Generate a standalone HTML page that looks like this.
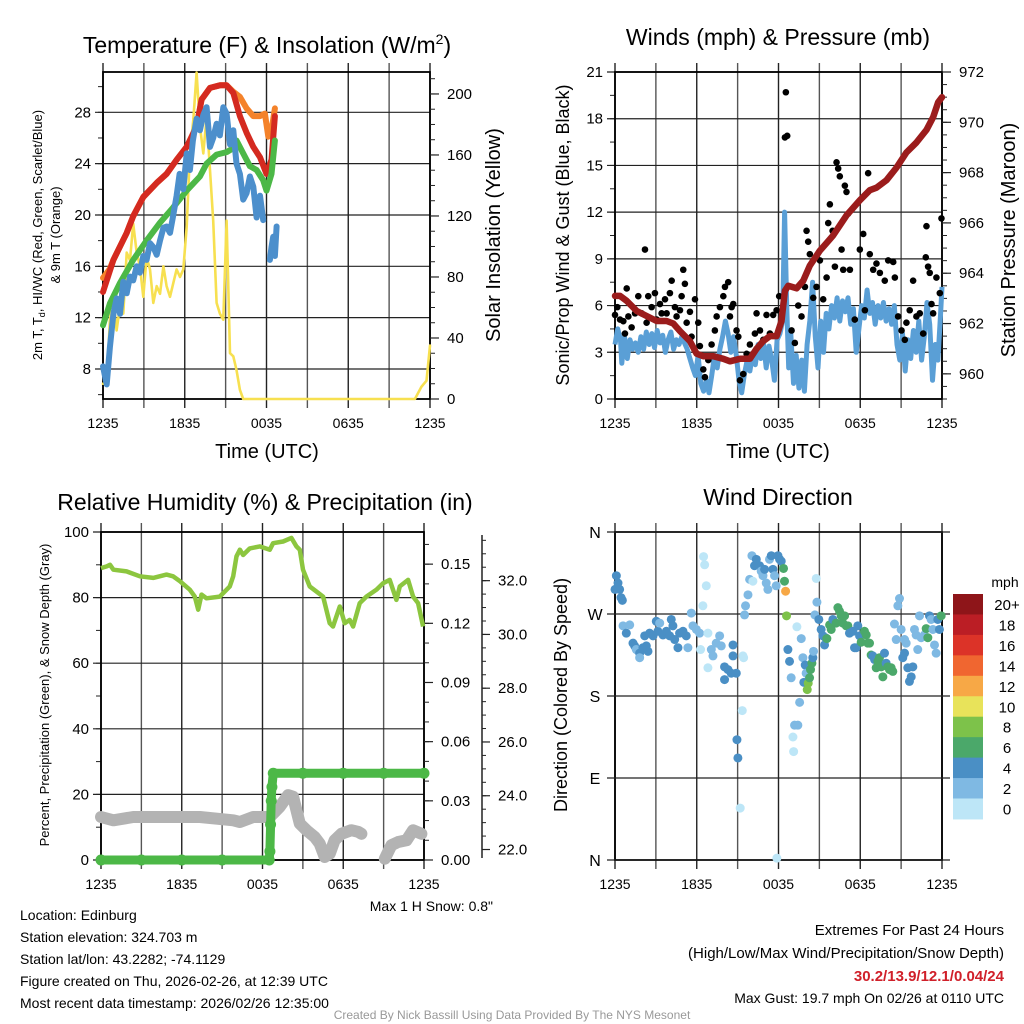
<!DOCTYPE html>
<html><head><meta charset="utf-8">
<style>
html,body{margin:0;padding:0;background:#fff;}
svg{display:block;font-family:"Liberation Sans",sans-serif;}
</style></head>
<body>
<svg id="c" width="1024" height="1024" viewBox="0 0 1024 1024" xmlns="http://www.w3.org/2000/svg">
<g id="g1"></g>
<g id="g2"></g>
<g id="g3"></g>
<g id="g4"></g>
<text x="267" y="53" font-size="23" text-anchor="middle">Temperature (F) &amp; Insolation (W/m<tspan dy="-9" font-size="14">2</tspan><tspan dy="9">)</tspan></text>
<text transform="translate(42,235) rotate(-90)" font-size="13" text-anchor="middle">2m T, T<tspan font-size="9" dy="3">d</tspan><tspan dy="-3">, HI/WC (Red, Green, Scarlet/Blue)</tspan></text>
<text transform="translate(60,235) rotate(-90)" font-size="13" text-anchor="middle">&amp; 9m T (Orange)</text>
<text transform="translate(500,235) rotate(-90)" font-size="20" text-anchor="middle">Solar Insolation (Yellow)</text>
<text x="267" y="458" font-size="20" text-anchor="middle">Time (UTC)</text>
<text x="778" y="45" font-size="23" text-anchor="middle">Winds (mph) &amp; Pressure (mb)</text>
<text transform="translate(569,235) rotate(-90)" font-size="18" text-anchor="middle">Sonic/Prop Wind &amp; Gust (Blue, Black)</text>
<text transform="translate(1015,240) rotate(-90)" font-size="20" text-anchor="middle">Station Pressure (Maroon)</text>
<text x="778" y="458" font-size="20" text-anchor="middle">Time (UTC)</text>
<text x="265" y="510" font-size="23" text-anchor="middle">Relative Humidity (%) &amp; Precipitation (in)</text>
<text transform="translate(49,695) rotate(-90)" font-size="13" text-anchor="middle">Percent, Precipitation (Green), &amp; Snow Depth (Gray)</text>
<text x="493" y="911" font-size="14" text-anchor="end">Max 1 H Snow: 0.8"</text>
<text x="778" y="505" font-size="23" text-anchor="middle">Wind Direction</text>
<text transform="translate(567,695) rotate(-90)" font-size="18" text-anchor="middle">Direction (Colored By Speed)</text>
<g font-size="14">
<text x="20" y="920">Location: Edinburg</text>
<text x="20" y="942">Station elevation: 324.703 m</text>
<text x="20" y="964">Station lat/lon: 43.2282; -74.1129</text>
<text x="20" y="986">Figure created on Thu, 2026-02-26, at 12:39 UTC</text>
<text x="20" y="1008">Most recent data timestamp: 2026/02/26 12:35:00</text>
</g>
<g font-size="15" text-anchor="end">
<text x="1004" y="935">Extremes For Past 24 Hours</text>
<text x="1004" y="958">(High/Low/Max Wind/Precipitation/Snow Depth)</text>
<text x="1004" y="981" fill="#d0202a" font-weight="bold">30.2/13.9/12.1/0.04/24</text>
<text x="1004" y="1003" font-size="14">Max Gust: 19.7 mph On 02/26 at 0110 UTC</text>
</g>
<text x="512" y="1019" font-size="12" fill="#999" text-anchor="middle">Created By Nick Bassill Using Data Provided By The NYS Mesonet</text>
</svg>
<script>
// ---- shared categories
const xTickHours=[0,6,12,18,24];
const xTickLabels=["1235","1835","0035","0635","1235"];
// ---- panel 1 data (hours since 1235 UTC)
const redT=[0,0.76,1.74,2.22,2.96,3.94,4.67,5.4,6.14,6.87,7.24,7.85,8.58,9.07,9.56,10.05,10.54,11.03,11.52,12.0,12.37,12.62];
const redV=[14.0,16.5,18.6,19.9,21.4,22.5,23.2,24.3,25.3,26.9,29.0,29.9,30.1,30.1,29.5,27.7,26.4,25.3,24.5,23.2,24.3,27.7];
const orangeT=[0,0.5,0.76,1.74,2.22,2.96,3.94,4.67,5.4,6.14,6.87,7.24,7.85,8.58,9.07,9.56,10.05,10.54,11.03,11.52,11.88,12.13,12.37,12.62];
const orangeV=[15.1,15.8,16.5,18.6,19.9,21.4,22.5,23.2,24.3,25.3,26.9,29.0,29.9,30.1,30.1,29.6,29.2,28.3,27.7,27.7,27.9,26.1,26.6,28.3];
const greenT=[0,0.51,1.25,2.22,3.2,4.18,5.16,6.14,7.11,7.6,8.34,9.07,9.56,9.8,10.29,10.78,11.27,11.76,12.0,12.37,12.62];
const greenV=[11.4,13.1,14.7,16.5,18.0,19.4,20.6,21.9,23.0,24.0,24.7,24.9,25.2,25.8,24.8,23.8,23.5,22.7,21.9,23.2,25.8];
const blueT=[0,0.27,0.51,0.76,1.0,1.25,1.49,1.74,1.98,2.22,2.47,2.71,2.96,3.2,3.45,3.69,3.94,4.18,4.43,4.67,4.92,5.16,5.4,5.62,5.89,6.14,6.38,6.6,6.87,7.11,7.36,7.6,7.85,8.09,8.34,8.58,8.83,9.07,9.32,9.56,9.8,10.05,10.29,10.54,10.78,11.03,11.27,11.52,11.76,12.0,12.25,12.37,12.49,12.62,12.74];
const blueV=[8.2,6.8,9.7,12.3,13.5,12.3,14.8,13.9,15.2,14.9,16.0,15.5,16.8,16.5,17.8,17.5,16.9,18.0,19.0,19.1,18.6,20.0,21.5,23.2,22.0,24.8,23.5,25.8,27.5,26.6,27.8,28.4,25.3,26.0,27.1,26.2,28.4,27.9,25.5,26.6,24.0,23.2,21.2,21.7,23.0,22.2,19.8,21.5,19.6,null,16.5,17.5,18.3,16.8,19.1];
const solarT=[0,0.27,0.51,0.76,1.0,1.25,1.49,1.74,1.98,2.22,2.47,2.71,2.96,3.2,3.45,3.69,3.94,4.18,4.43,4.67,4.92,5.16,5.4,5.65,5.89,6.14,6.38,6.63,6.87,7.11,7.36,7.6,7.85,8.09,8.34,8.58,8.83,9.07,9.32,9.56,9.8,10.05,10.29,22.89,23.37,23.74,24];
const solarV=[10,10,52,65,45,61,56,96,91,115,96,87,67,93,85,63,74,69,87,74,67,76,85,80,85,113,161,183,214,179,161,185,150,117,63,56,52,117,30,28,19,6,0,0,8,12,35];
// ---- panel 2 data
const windT=[0,.2,.4,.5,.7,.9,1.1,1.3,1.5,1.7,1.9,2.1,2.3,2.5,2.7,2.9,3.1,3.3,3.5,3.7,3.9,4.1,4.3,4.5,4.7,4.9,5.1,5.3,5.5,5.7,5.9,6.1,6.3,6.5,6.7,6.9,7.1,7.3,7.5,7.7,7.9,8.1,8.3,8.5,8.7,8.9,9.1,9.3,9.5,9.7,9.9,10.1,10.3,10.5,10.7,10.9,11.1,11.3,11.5,11.7,11.9,12.1,12.3,12.45,12.6,12.75,12.9,13.1,13.3,13.5,13.7,13.9,14.1,14.3,14.5,14.7,14.9,15.1,15.3,15.5,15.7,15.9,16.1,16.3,16.5,16.7,16.9,17.1,17.3,17.5,17.7,17.9,18.1,18.3,18.5,18.7,18.9,19.1,19.3,19.5,19.7,19.9,20.1,20.3,20.5,20.7,20.9,21.1,21.3,21.5,21.7,21.9,22.1,22.3,22.5,22.7,22.9,23.1,23.3,23.5,23.7,23.9,24];
const windV=[3.5,4.5,3.8,2.3,4,2.6,3.8,3.2,3.6,3.0,4.0,3.2,4.3,3.5,4.2,3.3,4.4,3.6,4.1,3.0,3.8,4.3,3.2,3.8,3.5,4.0,3.6,3.2,2.6,2.0,1.5,2.8,1.0,0.5,1.2,0.4,1.5,2.8,2.0,3.2,4.0,5.0,4.2,3.0,4.0,2.8,1.2,0.4,1.6,2.5,1.8,2.9,2.2,3.5,2.6,3.6,2.0,3.4,2.5,1.2,3.8,4.2,5.0,12.0,6.0,2.0,4.2,1.0,2.8,0.7,2.5,0.5,3.5,5.0,7.5,4.0,2.0,5.0,3.0,5.5,4.5,6.0,5.2,6.5,5.0,6.3,5.6,6.5,4.8,5.8,3.0,4.5,6.0,5.2,7.0,5.5,6.2,4.8,6.0,5.2,6.2,5.0,5.8,4.8,6.0,3.5,2.5,4.2,1.8,3.8,2.6,4.4,3.0,5.0,2.5,4.0,6.2,4.8,1.2,3.5,2.5,5.5,7.2];
const gustT=[0,.17,.37,.61,.86,.73,.98,1.22,1.47,1.71,1.96,2.2,2.32,2.44,2.69,2.93,3.06,3.3,3.42,3.67,3.79,4.03,4.16,4.4,4.52,4.77,4.89,5.01,5.13,5.26,5.5,5.62,5.87,6.11,6.23,6.48,6.6,6.85,7.09,7.33,7.46,7.7,7.95,8.07,8.31,8.44,8.56,8.68,8.92,9.05,9.17,9.41,9.66,9.9,10.27,10.39,10.64,10.88,11.12,11.37,11.61,11.86,12.05,12.47,12.54,12.64,12.96,13.2,13.45,13.69,13.94,14.06,14.18,14.3,14.55,14.79,15.04,15.28,15.53,15.65,15.77,15.97,16.14,16.26,16.38,16.5,16.63,16.75,16.87,16.99,17.11,17.24,17.6,17.97,18.22,18.34,18.58,18.7,18.95,19.19,19.44,19.8,20.05,20.42,20.54,20.78,21.03,21.27,21.39,21.63,21.88,22.12,22.37,22.62,22.81,22.86,22.98,23.1,23.23,23.35,23.59,23.84,23.96];
const gustV=[5.4,5.9,5.1,5.0,7.1,4.2,5.3,4.6,5.5,6.6,5.5,9.6,4.9,6.6,5.9,6.8,5.1,6.1,5.5,6.4,5.5,6.8,7.6,5.9,5.3,5.7,6.6,8.3,7.4,4.9,5.6,4.0,6.4,4.9,3.4,1.9,1.4,2.5,3.5,4.4,5.3,5.9,6.6,7.2,7.5,5.3,5.9,6.1,4.4,4.0,1.2,1.6,2.9,3.5,4.2,5.5,4.4,3.8,5.4,4.2,5.4,5.7,6.6,16.8,19.7,16.9,4.4,3.6,6.0,5.3,7.2,10.8,10.1,9.3,6.5,7.2,8.9,6.4,7.8,11.3,12.5,10.8,8.5,15.2,14.8,14.3,9.6,8.3,13.7,13.3,11.9,8.3,5.1,9.6,10.6,5.7,14.5,9.3,8.3,8.7,8.1,7.6,8.9,8.8,7.8,5.3,4.4,3.8,4.9,5.7,7.6,5.3,5.5,4.2,9.1,11.1,8.5,8.1,6.1,5.5,7.8,6.8,11.6];
const presT=[0,.37,.86,1.59,2.32,3.06,3.79,4.28,4.77,5.5,5.99,6.48,7.21,7.95,8.44,9.17,9.9,10.39,10.88,11.37,11.86,12.22,12.47,12.71,13.33,13.81,14.3,15.04,15.53,16.01,16.5,16.99,17.48,17.97,18.7,19.19,19.93,20.66,21.39,22.13,22.86,23.35,23.72,24];
const presV=[963.1,963.1,962.9,962.5,962.3,962.1,962.1,962.0,961.7,961.3,960.8,960.7,960.7,960.6,960.5,960.6,960.6,961.0,961.3,961.5,961.5,962.1,963.3,963.5,963.4,963.7,964.3,964.9,965.2,965.5,965.9,966.3,966.6,966.9,967.3,967.4,967.7,968.2,968.8,969.2,969.7,970.2,970.8,971.0];
// ---- panel 3 data
const rhT=[0,.42,.67,.92,1.9,2.89,3.88,4.87,5.36,5.86,6.6,6.97,7.22,7.47,7.84,8.83,9.57,9.82,10.07,10.32,10.56,11.06,11.8,12.54,12.79,13.53,14.15,14.52,14.77,15.01,15.51,16.0,16.5,16.99,17.24,17.74,18.11,18.48,18.73,19.22,19.72,20.46,20.96,21.45,21.95,22.2,22.82,23.19,23.56,23.93];
const rhV=[89,89.5,90,88.5,88,86.5,86,87,86.5,85,82.4,80.3,76.3,80.9,79.8,80.3,83.4,86.5,92.6,94.6,93,95,95.6,94.6,96.6,97.1,98.2,95.6,94.6,88.5,83.4,81.9,80.3,72.2,71.2,77.3,72.2,73.2,71.2,78.3,80.3,82.4,84.4,85.4,79.3,83.4,85.4,80.3,78.3,71.2];
const precipT=[0,3,6,9,12.5,12.55,12.6,12.65,12.7,12.8,15,18,21,24];
const precipV=[0,0,0,0,0,0.0044,0.018,0.030,0.037,0.044,0.044,0.044,0.044,0.044];
const snowT=[0,.92,2.4,4.87,7.35,9.82,10.32,11.31,12.54,13.28,13.9,14.27,14.52,14.77,15.27,15.88,16.25,16.62,16.99,17.36,17.86,18.6,19.1,19.35,null,21.09,21.58,22.08,22.7,23.19,23.81];
const snowV=[13.1,12.1,13.1,13.1,13.1,12.1,11.6,13.1,13.1,16.2,19.8,19.3,15.2,11.1,9.1,7.0,5.0,0.9,1.9,6.0,8.0,9.1,8.6,8.0,null,0.4,4.5,5.5,6.0,9.1,8.0];
// ---- panel 4 data
const dirT=[0,.1,.22,.34,.44,.54,.59,.83,1.08,1.32,1.44,1.56,1.81,1.81,2.05,2.3,2.42,2.18,2.54,2.79,3.03,3.15,3.28,3.52,3.77,4.01,4.13,4.25,4.38,4.62,4.74,4.99,5.23,5.35,5.6,5.72,5.97,6.21,6.28,6.45,6.5,6.58,6.7,6.82,6.82,7.07,7.19,7.43,7.68,7.8,8.04,8.04,8.29,8.53,8.66,8.66,8.9,8.95,9.02,9.19,9.34,9.39,9.44,9.51,9.58,9.76,9.88,10.05,10.12,10.24,10.37,10.61,10.73,10.86,10.98,11.1,11.22,11.34,11.47,11.59,11.71,11.83,11.88,11.96,12.08,12.2,12.37,12.44,12.52,12.59,12.69,12.81,12.93,13.06,13.11,13.18,13.35,13.42,13.55,13.67,13.79,13.86,13.96,14.03,14.11,14.18,14.28,14.35,14.45,14.52,14.57,14.67,14.77,14.82,14.96,15.13,15.26,15.38,15.45,15.55,15.75,15.87,15.99,16.23,16.36,16.48,16.6,16.72,16.85,16.97,17.09,17.21,17.46,17.58,17.7,17.82,17.95,18.07,18.31,18.44,18.56,18.68,18.8,18.92,19.05,19.17,19.29,19.41,19.54,19.66,19.78,19.9,20.02,20.15,20.27,20.39,20.51,20.64,20.76,20.88,21.0,21.12,21.25,21.25,21.37,21.49,21.61,21.74,21.86,21.98,22.1,22.22,22.35,22.47,22.71,22.84,22.96,23.08,23.2,23.33,23.45,23.57,23.69,23.81,23.94];
const dirV=[297,312,304,297,288,285,257,249,258,238,235,231,227,222,233,235,229,246,249,246,262,251,260,247,251,246,264,257,242,233,249,251,246,233,271,257,253,249,231,279,333,324,301,211,249,231,224,238,246,235,212,198,209,205,236,224,205,132,112,57,164,224,222,269,279,291,308,334,306,323,330,323,317,312,319,304,297,330,334,319,312,301,2,334,330,328,320,306,295,268,231,218,200,135,119,148,256,148,173,243,222,195,214,205,187,194,200,209,216,222,229,269,309,283,264,253,246,236,244,243,258,253,264,260,277,273,268,260,268,257,257,249,251,233,233,257,246,239,251,247,238,238,225,224,220,211,218,222,212,201,227,216,212,209,211,207,259,242,279,287,253,222,242,227,238,211,196,201,212,253,247,231,268,244,247,254,244,268,264,253,236,227,264,253,268];
const dirSpd=[5,5,5,5,5,5,3,5,3,5,5,3,5,3,5,5,5,5,5,5,5,5,3,5,5,5,5,5,5,5,5,5,5,3,3,3,3,3,1,1,1,1,1,1,1,3,3,3,3,3,5,5,5,5,5,5,5,5,5,1,1,1,1,3,3,3,3,3,1,5,5,5,3,3,5,3,3,3,5,5,3,3,1,5,5,5,7,7,13,9,5,5,3,1,1,3,1,3,3,3,3,5,5,3,9,9,7,7,7,5,3,3,1,3,5,5,5,5,5,7,7,7,5,7,7,7,7,7,7,7,7,5,5,5,5,5,5,7,7,7,7,7,7,5,5,7,7,7,7,7,5,5,7,7,7,7,3,3,3,3,3,5,3,5,3,5,5,5,5,3,3,3,3,3,3,7,7,5,3,3,3,3,5,5,7];
const cbLabels=["20+","18","16","14","12","10","8","6","4","2","0"];
const cbColors=["#8e1519","#bb1e25","#dc3328","#f06630","#f7a846","#e8e35a","#7dc24a","#4ba86a","#4a8fc5","#7fb9e3","#bde6f7"];

const NS="http://www.w3.org/2000/svg";
function mk(parent,tag,attrs){const e=document.createElementNS(NS,tag);for(const k in attrs)e.setAttribute(k,attrs[k]);parent.appendChild(e);return e;}
function lin(d0,d1,r0,r1){return v=>r0+(v-d0)*(r1-r0)/(d1-d0);}
function pathFrom(T,V,sx,sy){let d="",pen=false;for(let i=0;i<T.length;i++){if(T[i]===null||V[i]===null){pen=false;continue;}d+=(pen?"L":"M")+sx(T[i]).toFixed(1)+","+sy(V[i]).toFixed(1);pen=true;}return d;}

function frame(g,L,R,Tp,B,xs,hGrid,yl,leftTicks,leftMinor,leftFmt,rightAxis){
  for(let h=0;h<=24;h+=3){const x=xs(h);
    const l=mk(g,"line",{x1:x,x2:x,y1:Tp-9,y2:B+9,stroke:(h%6==0?"#222":"#555"),"stroke-width":1.4});
    
    }
  hGrid.forEach(v=>{const y=yl(v);const l=mk(g,"line",{x1:L-8,x2:R,y1:y,y2:y,stroke:"#222","stroke-width":1.2});
    
    });
  leftMinor.forEach(v=>{const y=yl(v);mk(g,"line",{x1:L-5,x2:L,y1:y,y2:y,stroke:"#222","stroke-width":1});});
  leftTicks.forEach(v=>{const t=mk(g,"text",{x:L-12,y:yl(v)+5,"font-size":15,"text-anchor":"end"});t.textContent=leftFmt(v);
    
    });
  xTickHours.forEach((h,i)=>{const t=mk(g,"text",{x:xs(h),y:B+29,"font-size":14,"text-anchor":"middle"});t.textContent=xTickLabels[i];
    
    });
  const b=mk(g,"rect",{x:L,y:Tp,width:R-L,height:B-Tp,fill:"none",stroke:"#000","stroke-width":1.8});
  
  
  if(rightAxis){const ra=rightAxis;
    ra.minor.forEach(v=>mk(g,"line",{x1:ra.x,x2:ra.x+5,y1:ra.s(v),y2:ra.s(v),stroke:"#222","stroke-width":1}));
    ra.major.forEach(v=>{mk(g,"line",{x1:ra.x,x2:ra.x+9,y1:ra.s(v),y2:ra.s(v),stroke:"#222","stroke-width":1.2});
      const t=mk(g,"text",{x:ra.x+17,y:ra.s(v)+5,"font-size":15});t.textContent=ra.fmt(v);
      
      });
  }
}
function range(a,b,s){const r=[];for(let v=a;v<=b+1e-9;v+=s)r.push(+v.toFixed(4));return r;}

// Panel 1
(function(){const g=document.getElementById("g1");const L=103,R=430,Tp=72,B=399;
  const xs=lin(0,24,L,R),ys=lin(5.66,31.14,B,Tp),yr=lin(0,214.4,B,Tp);
  frame(g,L,R,Tp,B,xs,range(8,28,4),ys,range(8,28,4),range(6,30,2),v=>v,{x:R,s:yr,major:range(0,200,40),minor:range(0,210,10),fmt:v=>v});
  const series=[[solarT,solarV,yr,"#f7e050",2.6,"insolation-line"],[orangeT,orangeV,ys,"#f4822a",6,"9m-temp-line"],[redT,redV,ys,"#d42a20",6,"2m-temp-line"],[greenT,greenV,ys,"#4cb847",6,"dewpoint-line"],[blueT,blueV,ys,"#4c8fcc",6,"wind-chill-line"]];
  series.forEach(s=>{const p=mk(g,"path",{d:pathFrom(s[0],s[1],xs,s[2]),fill:"none",stroke:s[3],"stroke-width":s[4],"stroke-linejoin":"round","stroke-linecap":"round"});
    
    });
})();
// Panel 2
(function(){const g=document.getElementById("g2");const L=615,R=942,Tp=72,B=399;
  const xs=lin(0,24,L,R),ys=lin(0,21,B,Tp),yr=lin(959.0,972,B,Tp);
  frame(g,L,R,Tp,B,xs,range(0,21,3),ys,range(0,21,3),range(0,21,1.5),v=>v,{x:R,s:yr,major:range(960,972,2),minor:range(959,972,0.5),fmt:v=>v});
  const w=mk(g,"path",{d:pathFrom(windT,windV,xs,ys),fill:"none",stroke:"#5a9fd6","stroke-width":5,"stroke-linejoin":"round"});
  
  
  gustT.forEach((t,i)=>{const c=mk(g,"circle",{cx:xs(t),cy:ys(gustV[i]),r:3.3,fill:"#000"});
    
    });
  const p=mk(g,"path",{d:pathFrom(presT,presV,xs,yr),fill:"none",stroke:"#9b1c1c","stroke-width":6.5,"stroke-linejoin":"round","stroke-linecap":"round"});
  
  
})();
// Panel 3
(function(){const g=document.getElementById("g3");const L=101,R=424,Tp=532,B=860;
  const xs=lin(0,24,L,R),ys=lin(0,100,B,Tp),yp=lin(0,0.1663,B,Tp),ysn=lin(21.61,33.81,B,Tp);
  frame(g,L,R,Tp,B,xs,range(0,100,20),ys,range(0,100,20),range(0,100,10),v=>v,{x:R,s:yp,major:range(0,0.15,0.03),minor:range(0,0.16,0.01),fmt:v=>v.toFixed(2)});
  const ax=482;mk(g,"line",{x1:ax,x2:ax,y1:Tp+3,y2:B-2,stroke:"#222","stroke-width":1.5});
  range(22,33.5,0.5).forEach(v=>mk(g,"line",{x1:ax,x2:ax+4,y1:ysn(v),y2:ysn(v),stroke:"#222","stroke-width":1}));
  range(22,32,2).forEach(v=>{mk(g,"line",{x1:ax,x2:ax+8,y1:ysn(v),y2:ysn(v),stroke:"#222","stroke-width":1.2});
    const t=mk(g,"text",{x:ax+16,y:ysn(v)+5,"font-size":15});t.textContent=v.toFixed(1);
    
    });
  const sn=mk(g,"path",{d:pathFrom(snowT,snowV,xs,ys),fill:"none",stroke:"#b3b3b3","stroke-width":12,"stroke-linejoin":"round","stroke-linecap":"round"});
  
  
  const pr=mk(g,"path",{d:pathFrom(precipT,precipV,xs,yp),fill:"none",stroke:"#4cb847","stroke-width":9,"stroke-linejoin":"round","stroke-linecap":"round"});
  
  
  precipT.forEach((t,i)=>{const c=mk(g,"circle",{cx:xs(t),cy:yp(precipV[i]),r:5.5,fill:"#4cb847"});
    
    });
  const rh=mk(g,"path",{d:pathFrom(rhT,rhV,xs,ys),fill:"none",stroke:"#8cc63f","stroke-width":4.5,"stroke-linejoin":"round"});
  
  
})();
// Panel 4
(function(){const g=document.getElementById("g4");const L=615,R=942,Tp=532,B=860;
  const xs=lin(0,24,L,R),ys=lin(0,360,B,Tp);
  const dirLabels=["N","E","S","W","N"];
  frame(g,L,R,Tp,B,xs,[],ys,[],[],v=>v,null);
  [0,90,180,270,360].forEach((v,i)=>{const y=ys(v);mk(g,"line",{x1:L-8,x2:R+8,y1:y,y2:y,stroke:"#222","stroke-width":1.2});
    const t=mk(g,"text",{x:L-20,y:y+6,"font-size":16,"text-anchor":"middle"});t.textContent=dirLabels[i];
    
    });
  function col(s){const idx=Math.min(10,Math.floor(s/2));return cbColors[10-idx];}
  dirT.forEach((t,i)=>{const c=mk(g,"circle",{cx:xs(t),cy:ys(dirV[i]),r:4.5,fill:col(dirSpd[i])});
    
    });
  const cx=953,cy=594,h=20.45;
  const m=mk(g,"text",{x:1005,y:587,"font-size":14,"text-anchor":"middle"});m.textContent="mph";
  
  
  cbColors.forEach((c,i)=>{const r=mk(g,"rect",{x:cx,y:cy+i*h,width:30,height:h+0.5,fill:c});
    
    
    const t=mk(g,"text",{x:1007,y:cy+i*h+16,"font-size":15,"text-anchor":"middle"});t.textContent=cbLabels[i];
    
    });
})();
</script>
</body></html>
